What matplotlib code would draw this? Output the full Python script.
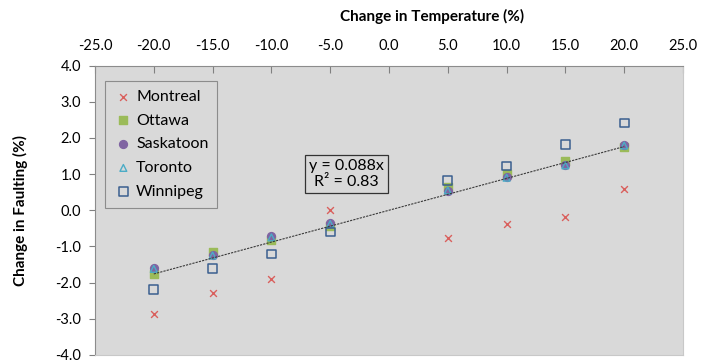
import matplotlib
matplotlib.use("Agg")
import matplotlib.pyplot as plt
import numpy as np

plt.rcParams['font.family'] = ['Lato', 'DejaVu Sans']

temperature = [-20, -15, -10, -5, 5, 10, 15, 20]
montreal = [-2.88, -2.29, -1.90, 0.02, -0.76, -0.37, -0.18, 0.58]
ottawa = [-1.75, -1.16, -0.81, -0.44, 0.63, 1.00, 1.37, 1.76]
saskatoon = [-1.60, -1.25, -0.72, -0.36, 0.54, 0.91, 1.25, 1.81]
toronto = [-1.62, -1.25, -0.75, -0.38, 0.55, 0.90, 1.24, 1.79]
winnipeg = [-2.20, -1.60, -1.21, -0.60, 0.82, 1.22, 1.82, 2.41]
slope = 0.088
r_squared = 0.83

x_ticks = np.arange(-25, 26, 5)
y_ticks = np.arange(-4, 5, 1)

fig = plt.figure(figsize=(7.03, 3.64), dpi=100)
ax = fig.add_axes([95 / 703, 1 - 355 / 364, 588 / 703, 289.5 / 364])
ax.set_facecolor('#D9D9D9')

ax.scatter(temperature, montreal, marker='x', s=24, color='#D9605D', linewidths=1.0,
           label='Montreal', zorder=3)
ax.scatter(temperature, ottawa, marker='s', s=34, color='#9BBB59', label='Ottawa', zorder=4)
ax.scatter(temperature, saskatoon, marker='o', s=32, color='#8064A2', label='Saskatoon', zorder=5)
ax.scatter(temperature, toronto, marker='^', s=24, facecolors='none', edgecolors='#4BACC6',
           linewidths=1.0, label='Toronto', zorder=6)
ax.scatter(temperature, winnipeg, marker='s', s=40, facecolors='none', edgecolors='#3A5F8F',
           linewidths=1.1, label='Winnipeg', zorder=7)

t = np.array([min(temperature), max(temperature)])
ax.plot(t, slope * t, color='#3A3A3A', lw=0.8, linestyle=(0, (2, 1)), zorder=8)

ax.set_xlim(-25, 25)
ax.set_ylim(-4, 4)
ax.set_xticks(x_ticks)
ax.set_yticks(y_ticks)
ax.set_xticklabels([f'{v:.1f}' for v in x_ticks])
ax.set_yticklabels([f'{v:.1f}' for v in y_ticks])
ax.xaxis.tick_top()
ax.tick_params(axis='x', direction='in', length=5, color='#808080', labelsize=10.5, pad=9)
ax.tick_params(axis='y', direction='out', length=4, color='#808080', labelsize=10.5, pad=6)

for side in ['top', 'left']:
    ax.spines[side].set_color('#8C8C8C')
for side in ['right', 'bottom']:
    ax.spines[side].set_color('#C8C8C8')

fig.text(432 / 703, 1 - 16 / 364, 'Change in Temperature (%)', ha='center', va='center',
         fontsize=11, fontweight='bold')
fig.text(20 / 703, 1 - 210 / 364, 'Change in Faulting (%)', ha='center', va='center',
         rotation=90, fontsize=11, fontweight='bold')

ax.text(-3.6, 1.0, f'y = {slope}x\nR² = {r_squared}', ha='center', va='center', fontsize=11.5,
        linespacing=1.2,
        bbox=dict(boxstyle='square,pad=0.25', facecolor='none', edgecolor='#333333', lw=0.9),
        zorder=9)

leg = ax.legend(loc='upper left', bbox_to_anchor=(0.017, 0.947), fontsize=11.5,
                frameon=True, fancybox=False, edgecolor='#8C8C8C', facecolor='#D9D9D9',
                framealpha=1, handletextpad=0.2, labelspacing=0.6, borderpad=0.55,
                handlelength=1.2, borderaxespad=0)
leg.get_frame().set_linewidth(0.8)

fig.savefig('out.png', dpi=100, facecolor='white')
